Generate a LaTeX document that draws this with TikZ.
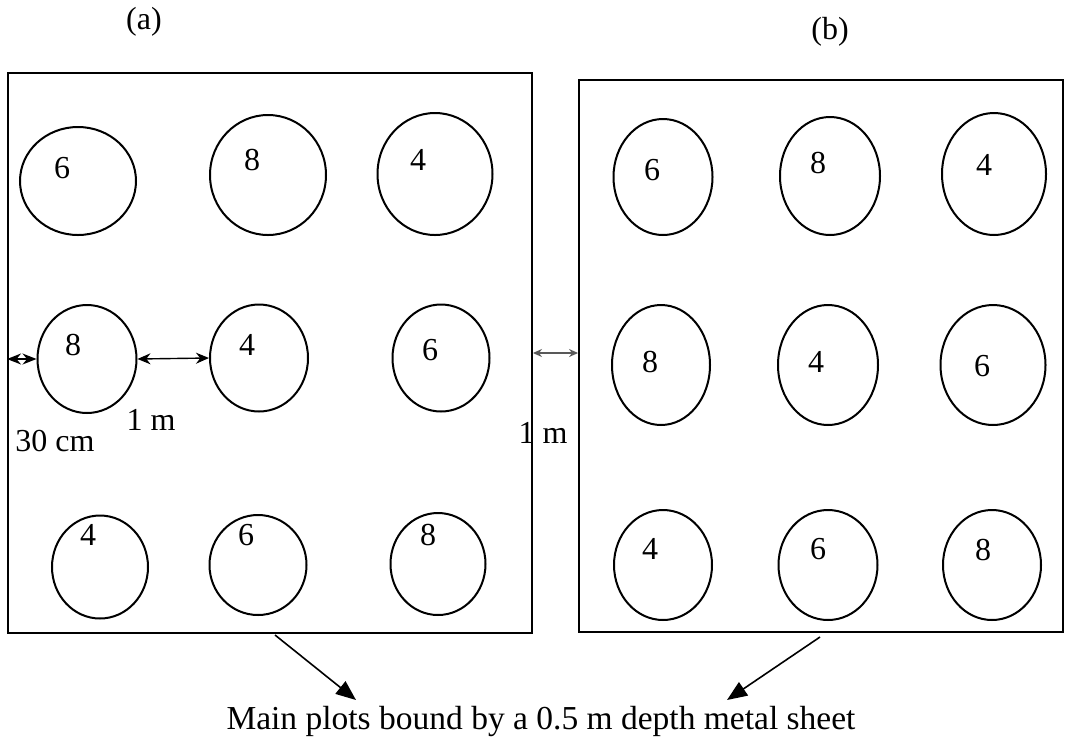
\documentclass[tikz,border=0pt]{standalone}
\usepackage{fontspec}
\setmainfont{Liberation Serif}
\usetikzlibrary{shapes.geometric,arrows.meta}
\begin{document}
\begin{tikzpicture}[x=1pt,y=-1pt,
  plotbox/.style={draw,line width=1.9pt,rectangle,inner sep=0pt},
  pit/.style={draw,line width=2pt,ellipse,inner sep=0pt},
  num/.style={inner sep=0pt,font=\fontsize{32}{36}\selectfont},
  lbl/.style={inner sep=0pt,font=\fontsize{32}{36}\selectfont},
  gap/.style={line width=1.4pt,{Stealth[length=13pt,width=11pt]}-{Stealth[length=13pt,width=11pt]}},
  pointer/.style={line width=1.6pt,-{Triangle[length=20pt,width=16pt]}}]
\useasboundingbox (0,0) rectangle (1074,740);

% the two main plots
\node[plotbox,minimum width=524pt,minimum height=560pt] (boxA) at (270,353) {};
\node[plotbox,minimum width=484pt,minimum height=552pt] (boxB) at (821,356) {};

\node[lbl] (capA) at (144,22) {(a)};
\node[lbl] (capB) at (830,32) {(b)};

% plot (a): sub-plots
\node[pit,minimum width=116pt,minimum height=108pt] (a11) at (78,181) {};
\node[pit,minimum width=116pt,minimum height=120pt] (a12) at (268,175) {};
\node[pit,minimum width=115pt,minimum height=122pt] (a13) at (435,174) {};
\node[pit,minimum width=99pt,minimum height=108pt] (a21) at (87,359) {};
\node[pit,minimum width=98pt,minimum height=107pt] (a22) at (259,358) {};
\node[pit,minimum width=97pt,minimum height=107pt] (a23) at (441,358) {};
\node[pit,minimum width=96pt,minimum height=103pt] (a31) at (100,567) {};
\node[pit,minimum width=97pt,minimum height=100pt] (a32) at (258,565) {};
\node[pit,minimum width=95pt,minimum height=102pt] (a33) at (438,564) {};

\node[num] (na11) at (62,168) {6};
\node[num] (na12) at (252,160) {8};
\node[num] (na13) at (418,160) {4};
\node[num] (na21) at (73,345) {8};
\node[num] (na22) at (247,345) {4};
\node[num] (na23) at (430,350) {6};
\node[num] (na31) at (88,535) {4};
\node[num] (na32) at (246,535) {6};
\node[num] (na33) at (428,535) {8};

% plot (b): sub-plots
\node[pit,minimum width=99pt,minimum height=116pt] (b11) at (663,177) {};
\node[pit,minimum width=100pt,minimum height=118pt] (b12) at (830,176) {};
\node[pit,minimum width=104pt,minimum height=122pt] (b13) at (994,174) {};
\node[pit,minimum width=98pt,minimum height=120pt] (b21) at (661,365) {};
\node[pit,minimum width=100pt,minimum height=120pt] (b22) at (828,365) {};
\node[pit,minimum width=105pt,minimum height=120pt] (b23) at (993,365) {};
\node[pit,minimum width=98pt,minimum height=110pt] (b31) at (663,565) {};
\node[pit,minimum width=99pt,minimum height=110pt] (b32) at (828,565) {};
\node[pit,minimum width=98pt,minimum height=110pt] (b33) at (992,565) {};

\node[num] (nb11) at (652,170) {6};
\node[num] (nb12) at (818,163) {8};
\node[num] (nb13) at (984,165) {4};
\node[num] (nb21) at (650,362) {8};
\node[num] (nb22) at (816,362) {4};
\node[num] (nb23) at (982,366) {6};
\node[num] (nb31) at (650,549) {4};
\node[num] (nb32) at (818,549) {6};
\node[num] (nb33) at (983,550) {8};

% spacing dimensions
\draw[gap,{Stealth[length=14pt,width=11pt]}-{Stealth[length=14pt,width=11pt]}] (boxA.west |- a21.west) -- (a21.west);
\draw[gap] (a21.east) -- (a22.west);
\draw[gap,draw=black!65,line width=1.2pt,{Stealth[length=9pt,width=8pt]}-{Stealth[length=9pt,width=8pt]}] (boxA.east |- 0,353) -- (boxB.west |- 0,353);

\node[lbl] (d30) at (55,441) {30 cm};
\node[lbl] (d1a) at (151,420) {1 m};
\node[lbl] (d1b) at (543,433) {1 m};

% caption with pointers to both plot borders
\node[lbl,font=\fontsize{33.5}{38}\selectfont] (cap) at (541,721) {Main plots bound by a 0.5 m depth metal sheet};
\coordinate (sA) at (275,635);
\coordinate (eA) at (356,700);
\coordinate (sB) at (820,637);
\coordinate (eB) at (727,700);
\draw[pointer] (sA) -- (eA);
\draw[pointer] (sB) -- (eB);
\end{tikzpicture}
\end{document}
